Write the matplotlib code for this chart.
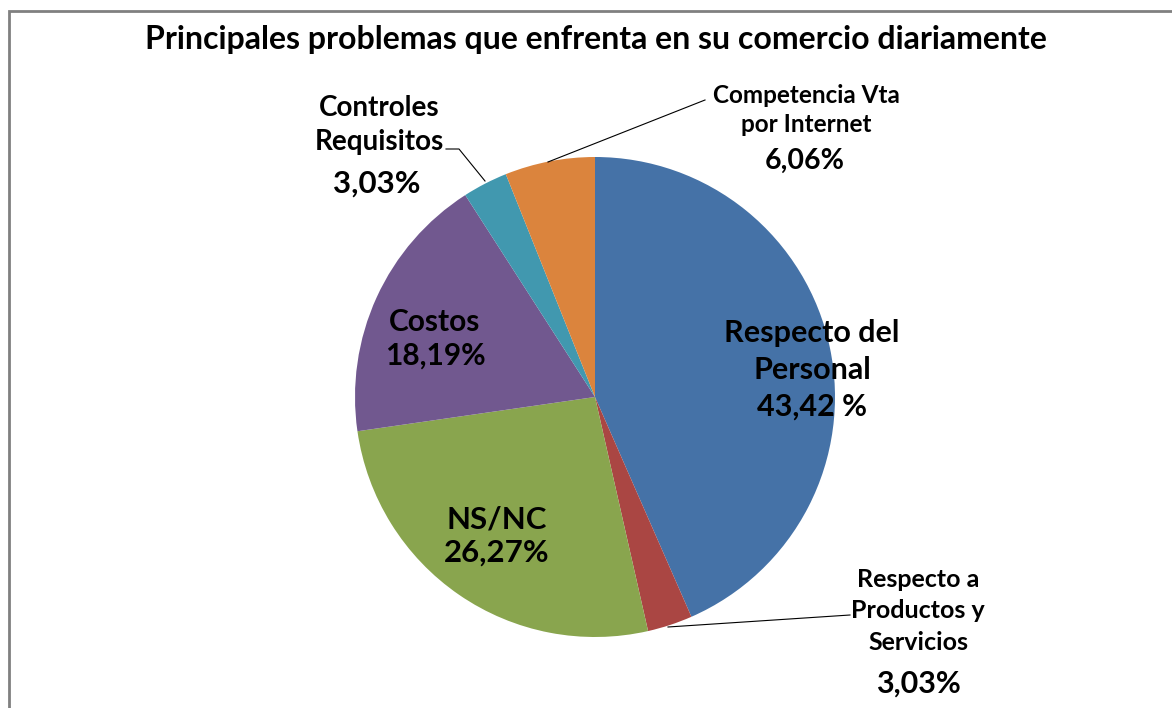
import matplotlib.pyplot as plt
from matplotlib.patches import Rectangle

plt.rcParams['font.family'] = ['Lato', 'DejaVu Sans']

# datos del gráfico
categorias = ['Respecto del\nPersonal', 'Respecto a\nProductos y\nServicios', 'NS/NC',
              'Costos', 'Controles\nRequisitos', 'Competencia Vta\npor Internet']
valores = [43.42, 3.03, 26.27, 18.19, 3.03, 6.06]
etiquetas = ['43,42 %', '3,03%', '26,27%', '18,19%', '3,03%', '6,06%']
colores = ['#4572A7', '#AA4643', '#89A54E', '#71588F', '#4198AF', '#DB843D']

W, H = 1172, 708
fig = plt.figure(figsize=(W / 100, H / 100), dpi=100)
ax = fig.add_axes([0, 0, 1, 1])

# pie en coordenadas de pixel (y hacia arriba)
cx, cy, r = 595, H - 397, 240
ax.pie(valores, colors=colores, startangle=90, counterclock=False,
       center=(cx, cy), radius=r, frame=True,
       wedgeprops=dict(linewidth=0))
ax.set_xlim(0, W)
ax.set_ylim(0, H)
ax.set_aspect('equal')
ax.axis('off')

# borde gris del área del gráfico
ax.add_patch(Rectangle((9, -20), W + 20, H - 11 + 20, fill=False,
                       edgecolor='#808080', linewidth=2))

ax.text(596, H - 40, 'Principales problemas que enfrenta en su comercio diariamente',
        ha='center', va='center', fontsize=23, fontweight='bold')

def px(x, y):
    return (x, H - y)

# etiquetas dentro del pie
ax.text(*px(812, 370), categorias[0] + '\n' + etiquetas[0], ha='center', va='center',
        fontsize=22, fontweight='bold', linespacing=1.37)
ax.text(*px(497, 536), categorias[2] + '\n' + etiquetas[2], ha='center', va='center',
        fontsize=22.5, fontweight='bold', linespacing=1.19)
ax.text(*px(435, 339), categorias[3] + '\n' + etiquetas[3], ha='center', va='center',
        fontsize=21.5, fontweight='bold', linespacing=1.22)

# etiquetas externas
ax.text(*px(379, 125), categorias[4], ha='center', va='center',
        fontsize=20, fontweight='bold', linespacing=1.42)
ax.text(*px(377, 184), etiquetas[4], ha='center', va='center',
        fontsize=22.5, fontweight='bold')
ax.plot(*zip(px(446, 149), px(459, 149), px(485, 181)), color='black', lw=0.8)

ax.text(*px(806, 110), categorias[5], ha='center', va='center',
        fontsize=17.5, fontweight='bold', linespacing=1.31)
ax.text(*px(805, 161), etiquetas[5], ha='center', va='center',
        fontsize=20.5, fontweight='bold')
ax.plot(*zip(px(705, 100), px(548, 162)), color='black', lw=0.8)

ax.text(*px(918, 611), categorias[1], ha='center', va='center',
        fontsize=18, fontweight='bold', linespacing=1.43)
ax.text(*px(918, 684), etiquetas[1], ha='center', va='center',
        fontsize=22, fontweight='bold')
ax.plot(*zip(px(850, 615), px(668, 627)), color='black', lw=0.8)

fig.savefig('out.png', dpi=100)
